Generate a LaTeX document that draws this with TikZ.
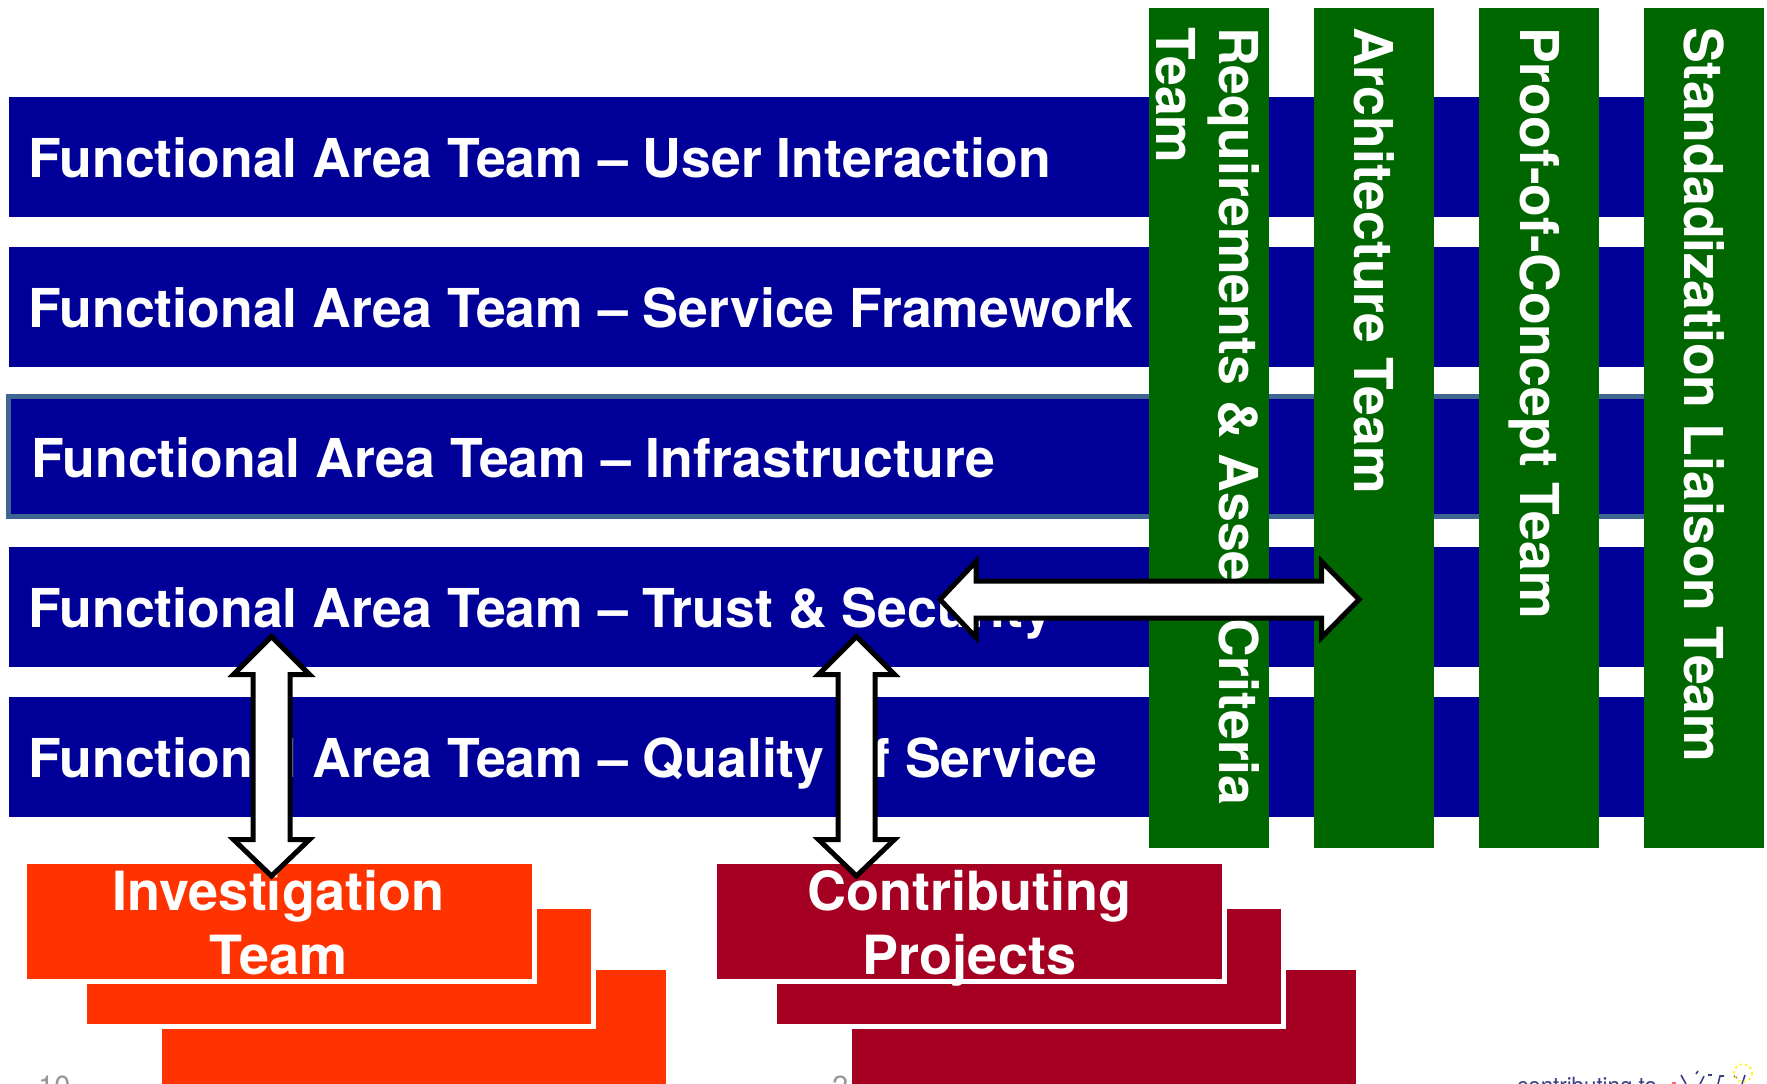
\documentclass[tikz,border=0pt]{standalone}
\usepackage{fontspec}
\setmainfont{TeX Gyre Heros}
\definecolor{fatblue}{HTML}{000099}
\definecolor{teamgreen}{HTML}{006600}
\definecolor{invorange}{HTML}{FF3300}
\definecolor{projred}{HTML}{A50021}
\definecolor{framecol}{HTML}{3F6690}
\definecolor{pagegray}{HTML}{969696}
\definecolor{footnavy}{HTML}{3A3F85}
\tikzset{
  fatbar/.style={fill=fatblue,draw=none},
  fatframe/.style={fill=fatblue,draw=framecol,line width=5.3pt},
  greenbar/.style={fill=teamgreen,draw=none},
  labeltext/.style={text=white,font=\fontsize{53.6}{64}\selectfont\bfseries,inner sep=0pt},
  fatlabel/.style={labeltext,anchor=base west},
  collabeltext/.style={labeltext,font=\fontsize{53.6}{63}\selectfont\bfseries},
  columnlabel/.style={collabeltext,rotate=-90,anchor=base west},
  stacklabel/.style={labeltext,font=\fontsize{54}{64}\selectfont\bfseries,align=center,anchor=center},
  orangebox/.style={fill=invorange,draw=white,line width=5pt},
  redbox/.style={fill=projred,draw=white,line width=5pt},
  whitearrow/.style={fill=white,draw=black,line width=5pt,miter limit=10,line join=miter},
  pagenum/.style={text=pagegray,font=\fontsize{29}{29}\selectfont,inner sep=0pt,anchor=base west},
  foottext/.style={text=footnavy,font=\fontsize{22.3}{24}\selectfont,inner sep=0pt,anchor=base west},
  logostroke/.style={draw=footnavy,line width=1.6pt},
}
\begin{document}
\begin{tikzpicture}[x=1pt,y=-1pt]
\useasboundingbox (0,0) rectangle (1767,1084);
\clip (0,0) rectangle (1767,1084);
% functional area bars
\fill[fatbar] (9,97) rectangle (1644,217);
\fill[fatbar] (9,247) rectangle (1644,367);
\draw[fatframe] (8.8,396.7) rectangle (1652,516.7);
\fill[fatbar] (9,547) rectangle (1644,667);
\fill[fatbar] (9,697) rectangle (1644,817);
\node[fatlabel] (fa1) at (28,177) {Functional Area Team – User Interaction};
\node[fatlabel] (fa2) at (28,327) {Functional Area Team – Service Framework};
\node[fatlabel] (fa3) at (31,477) {Functional Area Team – Infrastructure};
\node[fatlabel] (fa4) at (28,627) {Functional Area Team – Trust \& Security};
\node[fatlabel] (fa5) at (28,777) {Functional Area Team – Quality of Service};
% cross-cutting columns
\fill[greenbar] (1149,8) rectangle (1269,848);
\fill[greenbar] (1314,8) rectangle (1434,848);
\fill[greenbar] (1479,8) rectangle (1599,848);
\fill[greenbar] (1644,8) rectangle (1764,848);
\node[collabeltext,rotate=-90,anchor=west,align=left] (col1) at (1200.6,27) {\strut Requirements \& Asset\hspace{4pt} Criteria\\\strut Team};
\node[columnlabel] (col2) at (1354,27) {Architecture Team};
\node[columnlabel] (col3) at (1520,27) {Proof-of-Concept Team};
\node[columnlabel] (col4) at (1684.5,27) {Standadization Liaison Team};
% page furniture, hidden behind the boxes
\node[pagenum] (pg1) at (38,1096) {10};
\node[pagenum] (pg2) at (832,1096) {2};
\node[foottext] (foot) at (1517,1093) {contributing to};
\fill[red!60!white] (1672,1082) rectangle (1676,1084);
\draw[logostroke] (1681,1075) -- (1686,1084);
\draw[logostroke] (1696,1074) -- (1698,1071);
\draw[logostroke] (1700,1084) -- (1704,1076);
\draw[logostroke] (1708,1075) -- (1712,1075);
\draw[logostroke] (1718,1084) -- (1720,1076) -- (1724,1076);
\draw[logostroke] (1734,1076) -- (1737,1078);
\draw[logostroke] (1742,1084) -- (1745,1075);
\draw[yellow!85!white,line width=1.8pt,dash pattern=on 2.5pt off 3pt] (1743,1073) circle (9);
% investigation stack
\draw[orangebox] (159.5,967.5) rectangle (668.5,1087.5);
\draw[orangebox] (84.5,906.5) rectangle (593.5,1026.5);
\draw[orangebox] (24,861.5) rectangle (534.5,981.5);
\node[stacklabel] (inv) at (278.5,929.5) {\strut Investigation\\\strut Team};
% projects stack
\draw[redbox] (849.5,967.5) rectangle (1358.5,1087.5);
\draw[redbox] (774.5,906.5) rectangle (1283.5,1026.5);
\draw[redbox] (714,861.5) rectangle (1224.5,981.5);
\node[stacklabel] (proj) at (969.5,929.5) {\strut Contributing\\\strut Projects};
% double arrows
\draw[whitearrow] (271.5,636.5) -- (309.5,674.5) -- (290,674.5) -- (290,839.5) -- (309.5,839.5) -- (271.5,876)
  -- (233.5,839.5) -- (253,839.5) -- (253,674.5) -- (233.5,674.5) -- cycle;
\draw[whitearrow] (856.5,636.5) -- (894.5,674.5) -- (875,674.5) -- (875,839.5) -- (894.5,839.5) -- (856.5,876)
  -- (818.5,839.5) -- (838,839.5) -- (838,674.5) -- (818.5,674.5) -- cycle;
\draw[whitearrow] (940,599.5) -- (976,561.5) -- (976,581) -- (1321.5,581) -- (1321.5,561.5) -- (1359,599.5)
  -- (1321.5,637.5) -- (1321.5,618) -- (976,618) -- (976,637.5) -- cycle;
\end{tikzpicture}
\end{document}
